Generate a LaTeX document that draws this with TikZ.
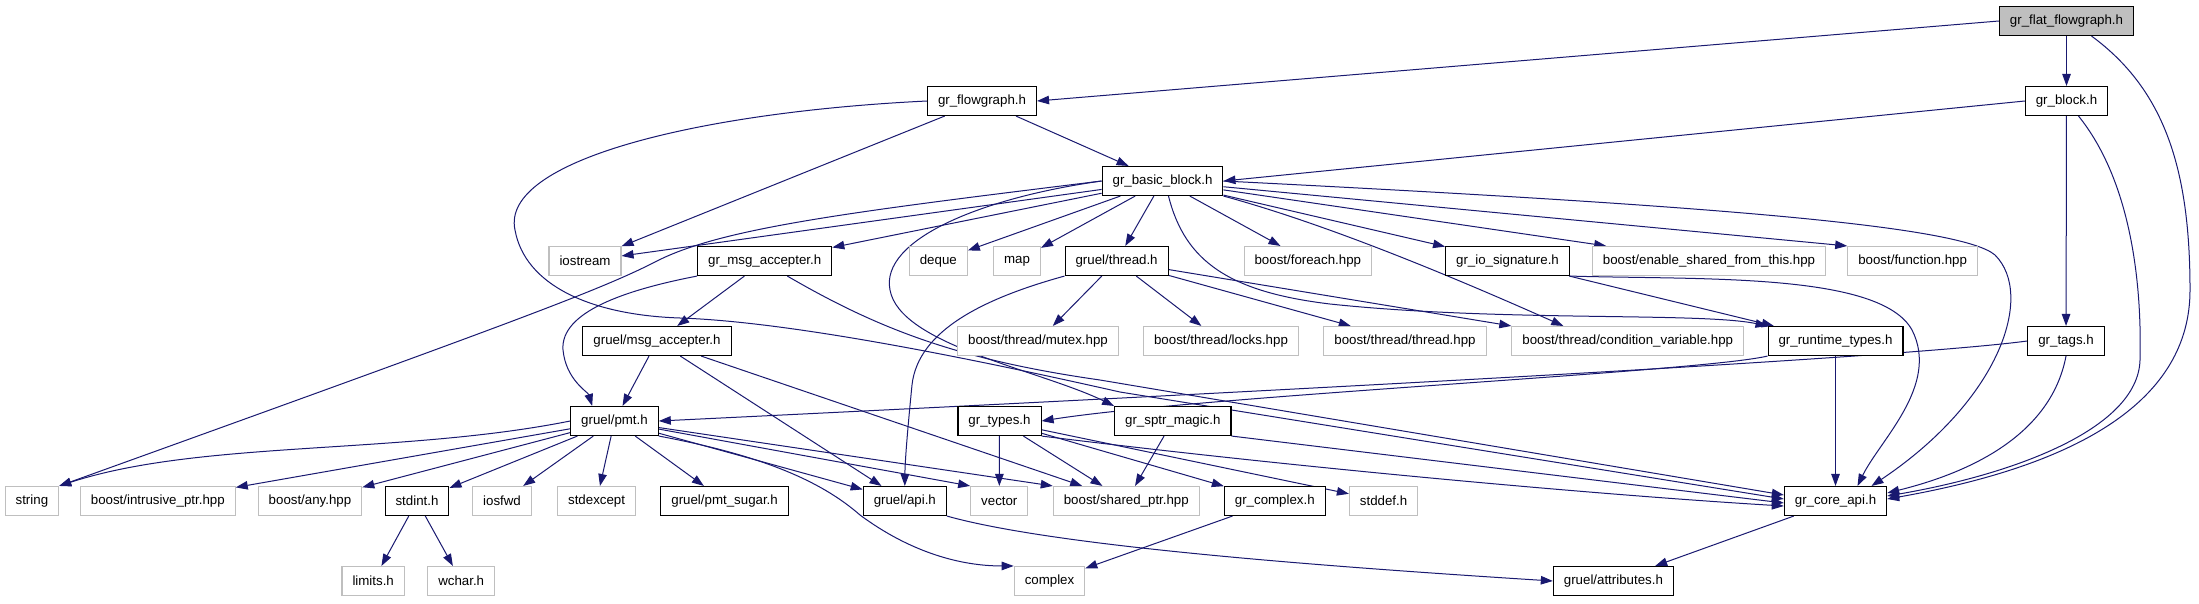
\documentclass[tikz,border=0pt]{standalone}
\usepackage{fontspec}
\setmainfont{Liberation Sans}
\usetikzlibrary{arrows.meta, positioning, backgrounds}
\definecolor{edgeblue}{RGB}{25,25,112}
\definecolor{grey75}{RGB}{191,191,191}

\begin{document}
\begin{tikzpicture}[
  x=1pt, y=-1pt,
  hdr/.style={draw=black, line width=1.1pt, fill=white, inner xsep=10.5pt, inner ysep=0pt, minimum height=29pt, font=\fontsize{13.3}{16}\selectfont},
  sys/.style={hdr, draw=grey75},
  rootfile/.style={hdr, fill=grey75},
  inc/.style={draw=edgeblue, line width=1pt, -{Triangle[length=12pt, width=8.5pt]}}
]
\useasboundingbox (0,0) rectangle (2199,603);

\node[rootfile] (flat)      at (2066.5,21)  {gr\_flat\_flowgraph.h};
\node[hdr]      (flowgraph) at (982,101)    {gr\_flowgraph.h};
\node[hdr]      (block)     at (2066.5,101) {gr\_block.h};
\node[hdr]      (basic)     at (1162.5,181) {gr\_basic\_block.h};

\node[sys]      (iostream)  at (585,261)    {iostream};
\node[hdr]      (msgacc)    at (764.7,261)  {gr\_msg\_accepter.h};
\node[sys]      (deque)     at (938.3,261)  {deque};
\node[sys]      (map)       at (1017,261)   {map};
\node[hdr]      (thread)    at (1116.6,261) {gruel/thread.h};
\node[sys]      (foreach)   at (1307.8,261) {boost/foreach.hpp};
\node[hdr]      (iosig)     at (1507.5,261) {gr\_io\_signature.h};
\node[sys]      (enable)    at (1709,261)   {boost/enable\_shared\_from\_this.hpp};
\node[sys]      (function)  at (1912.6,261) {boost/function.hpp};

\node[hdr]      (gmsgacc)   at (657,341)    {gruel/msg\_accepter.h};
\node[sys]      (mutex)     at (1038,341)   {boost/thread/mutex.hpp};
\node[sys]      (locks)     at (1221,341)   {boost/thread/locks.hpp};
\node[sys]      (bthread)   at (1405,341)   {boost/thread/thread.hpp};
\node[sys]      (condvar)   at (1627.7,341) {boost/thread/condition\_variable.hpp};
\node[hdr]      (rtypes)    at (1835.5,341) {gr\_runtime\_types.h};
\node[hdr]      (tags)      at (2066,341)   {gr\_tags.h};

\node[hdr]      (pmt)       at (614.5,421)  {gruel/pmt.h};
\node[hdr]      (types)     at (999.5,421)  {gr\_types.h};
\node[hdr]      (sptr)      at (1172.8,421) {gr\_sptr\_magic.h};

\node[sys]      (string)    at (31.9,501)   {string};
\node[sys]      (intrusive) at (157.8,501)  {boost/intrusive\_ptr.hpp};
\node[sys]      (any)       at (310,501)    {boost/any.hpp};
\node[hdr]      (stdint)    at (417,501)    {stdint.h};
\node[sys]      (iosfwd)    at (502,501)    {iosfwd};
\node[sys]      (stdexcept) at (596.6,501)  {stdexcept};
\node[hdr]      (pmtsugar)  at (724.6,501)  {gruel/pmt\_sugar.h};
\node[hdr]      (api)       at (904.8,501)  {gruel/api.h};
\node[sys]      (vector)    at (999.3,501)  {vector};
\node[sys]      (shared)    at (1126.3,501) {boost/shared\_ptr.hpp};
\node[hdr]      (complexh)  at (1274.8,501) {gr\_complex.h};
\node[sys]      (stddef)    at (1383.6,501) {stddef.h};
\node[hdr]      (coreapi)   at (1835.5,501) {gr\_core\_api.h};

\node[sys]      (limits)    at (373.2,581)  {limits.h};
\node[sys]      (wchar)     at (461.2,581)  {wchar.h};
\node[sys]      (cplx)      at (1049.5,581) {complex};
\node[hdr]      (attrs)     at (1613.4,581) {gruel/attributes.h};

\begin{scope}[on background layer]
\fill[white] (0,0) rectangle (2199,603);
\draw[inc] (flat.west) -- (flowgraph.east);
\draw[inc] (flat) -- (block);
\draw[inc] ([xshift=25pt]flat.south) .. controls (2165,90) and (2190,170) .. (2190,290) .. controls (2190,400) and (2080,465) .. ([yshift=2pt]coreapi.east);
\draw[inc] (flowgraph) -- (iostream);
\draw[inc] (flowgraph) -- (basic);
\draw[inc] (flowgraph.west) .. controls (700,112) and (500,160) .. (515,230) .. controls (525,285) and (590,315) .. (680,318) .. controls (800,322) and (1000,365) .. (1120,392) -- ([yshift=2pt]coreapi.west);
\draw[inc] (block.west) -- (basic.east);
\draw[inc] (block) -- (tags);
\draw[inc] ([xshift=12pt]block.south) .. controls (2130,180) and (2142,280) .. (2140,360) .. controls (2138,430) and (2010,475) .. ([yshift=5pt]coreapi.east);
\draw[inc] (basic) -- (iostream);
\draw[inc] (basic.west) .. controls (850,212) and (720,228) .. (655,262) .. controls (600,290) and (520,320) .. (string.north east);
\draw[inc] (basic) -- (msgacc);
\draw[inc] (basic) -- (deque);
\draw[inc] (basic) -- (map);
\draw[inc] (basic) -- (thread);
\draw[inc] (basic) -- (foreach);
\draw[inc] (basic) -- (iosig);
\draw[inc] (basic) -- (enable);
\draw[inc] (basic) -- (function.north west);
\draw[inc] (basic.east) .. controls (1700,205) and (1960,225) .. (1995,255) .. controls (2035,295) and (2000,400) .. ([xshift=36pt]coreapi.north);
\draw[inc] (basic.south east) .. controls (1330,225) and (1460,280) .. ([xshift=52pt]condvar.north west);
\draw[inc] ([xshift=6pt]basic.south) .. controls (1185,262) and (1230,292) .. (1330,304) .. controls (1500,322) and (1700,312) .. (rtypes.north west);
\draw[inc] (basic.west) .. controls (980,198) and (880,240) .. (890,290) .. controls (900,345) and (1040,370) .. (sptr.north west);
\draw[inc] (msgacc) -- (gmsgacc);
\draw[inc] (msgacc.south west) .. controls (625,290) and (560,312) .. (563,350) .. controls (566,380) and (588,392) .. ([xshift=22pt]pmt.north west);
\draw[inc] ([xshift=-45pt]msgacc.south east) .. controls (880,330) and (960,360) .. (1100,380) -- ([yshift=6pt]coreapi.west);
\draw[inc] (gmsgacc) -- (pmt);
\draw[inc] (gmsgacc) -- (api);
\draw[inc] (gmsgacc) -- (shared);
\draw[inc] (thread) -- (mutex);
\draw[inc] (thread) -- (locks);
\draw[inc] (thread) -- (bthread);
\draw[inc] (thread) -- (condvar.north west);
\draw[inc] (thread.south west) .. controls (985,298) and (918,330) .. (912,385) .. controls (908,425) and (905,460) .. (api.north);
\draw[inc] (iosig) -- (rtypes);
\draw[inc] (iosig.south east) .. controls (1700,280) and (1880,272) .. (1912,330) .. controls (1940,385) and (1880,440) .. ([xshift=22pt]coreapi.north);
\draw[inc] (rtypes.south west) .. controls (1700,372) and (1200,396) .. (types.east);
\draw[inc] (rtypes) -- (coreapi);
\draw[inc] (tags.west) .. controls (1900,358) and (1300,390) .. (pmt.east);
\draw[inc] (tags.south) .. controls (2050,440) and (1960,475) .. ([yshift=8pt]coreapi.east);
\draw[inc] (sptr) -- (shared);
\draw[inc] (sptr.south east) -- ([yshift=-2pt]coreapi.west);
\draw[inc] (types) -- (vector);
\draw[inc] (types) -- (shared);
\draw[inc] (types) -- (complexh);
\draw[inc] (types) -- (stddef);
\draw[inc] (types.south east) .. controls (1300,468) and (1600,495) .. ([yshift=-5pt]coreapi.west);
\draw[inc] (pmt.west) .. controls (400,455) and (200,440) .. (string.north east);
\draw[inc] (pmt) -- (intrusive);
\draw[inc] (pmt) -- (any);
\draw[inc] (pmt) -- (stdint);
\draw[inc] (pmt) -- (iosfwd);
\draw[inc] (pmt) -- (stdexcept);
\draw[inc] (pmt) -- (pmtsugar);
\draw[inc] (pmt) -- (api);
\draw[inc] (pmt) -- (vector.north west);
\draw[inc] (pmt) -- (shared.north west);
\draw[inc] (pmt.south east) .. controls (760,455) and (820,480) .. (860,515) .. controls (910,552) and (960,566) .. (cplx.north west);
\draw[inc] (stdint) -- (limits);
\draw[inc] (stdint) -- (wchar);
\draw[inc] (complexh) -- (cplx);
\draw[inc] (api.south east) .. controls (1050,545) and (1300,565) .. (attrs.west);
\draw[inc] (coreapi) -- (attrs);
\end{scope}
\end{tikzpicture}
\end{document}
